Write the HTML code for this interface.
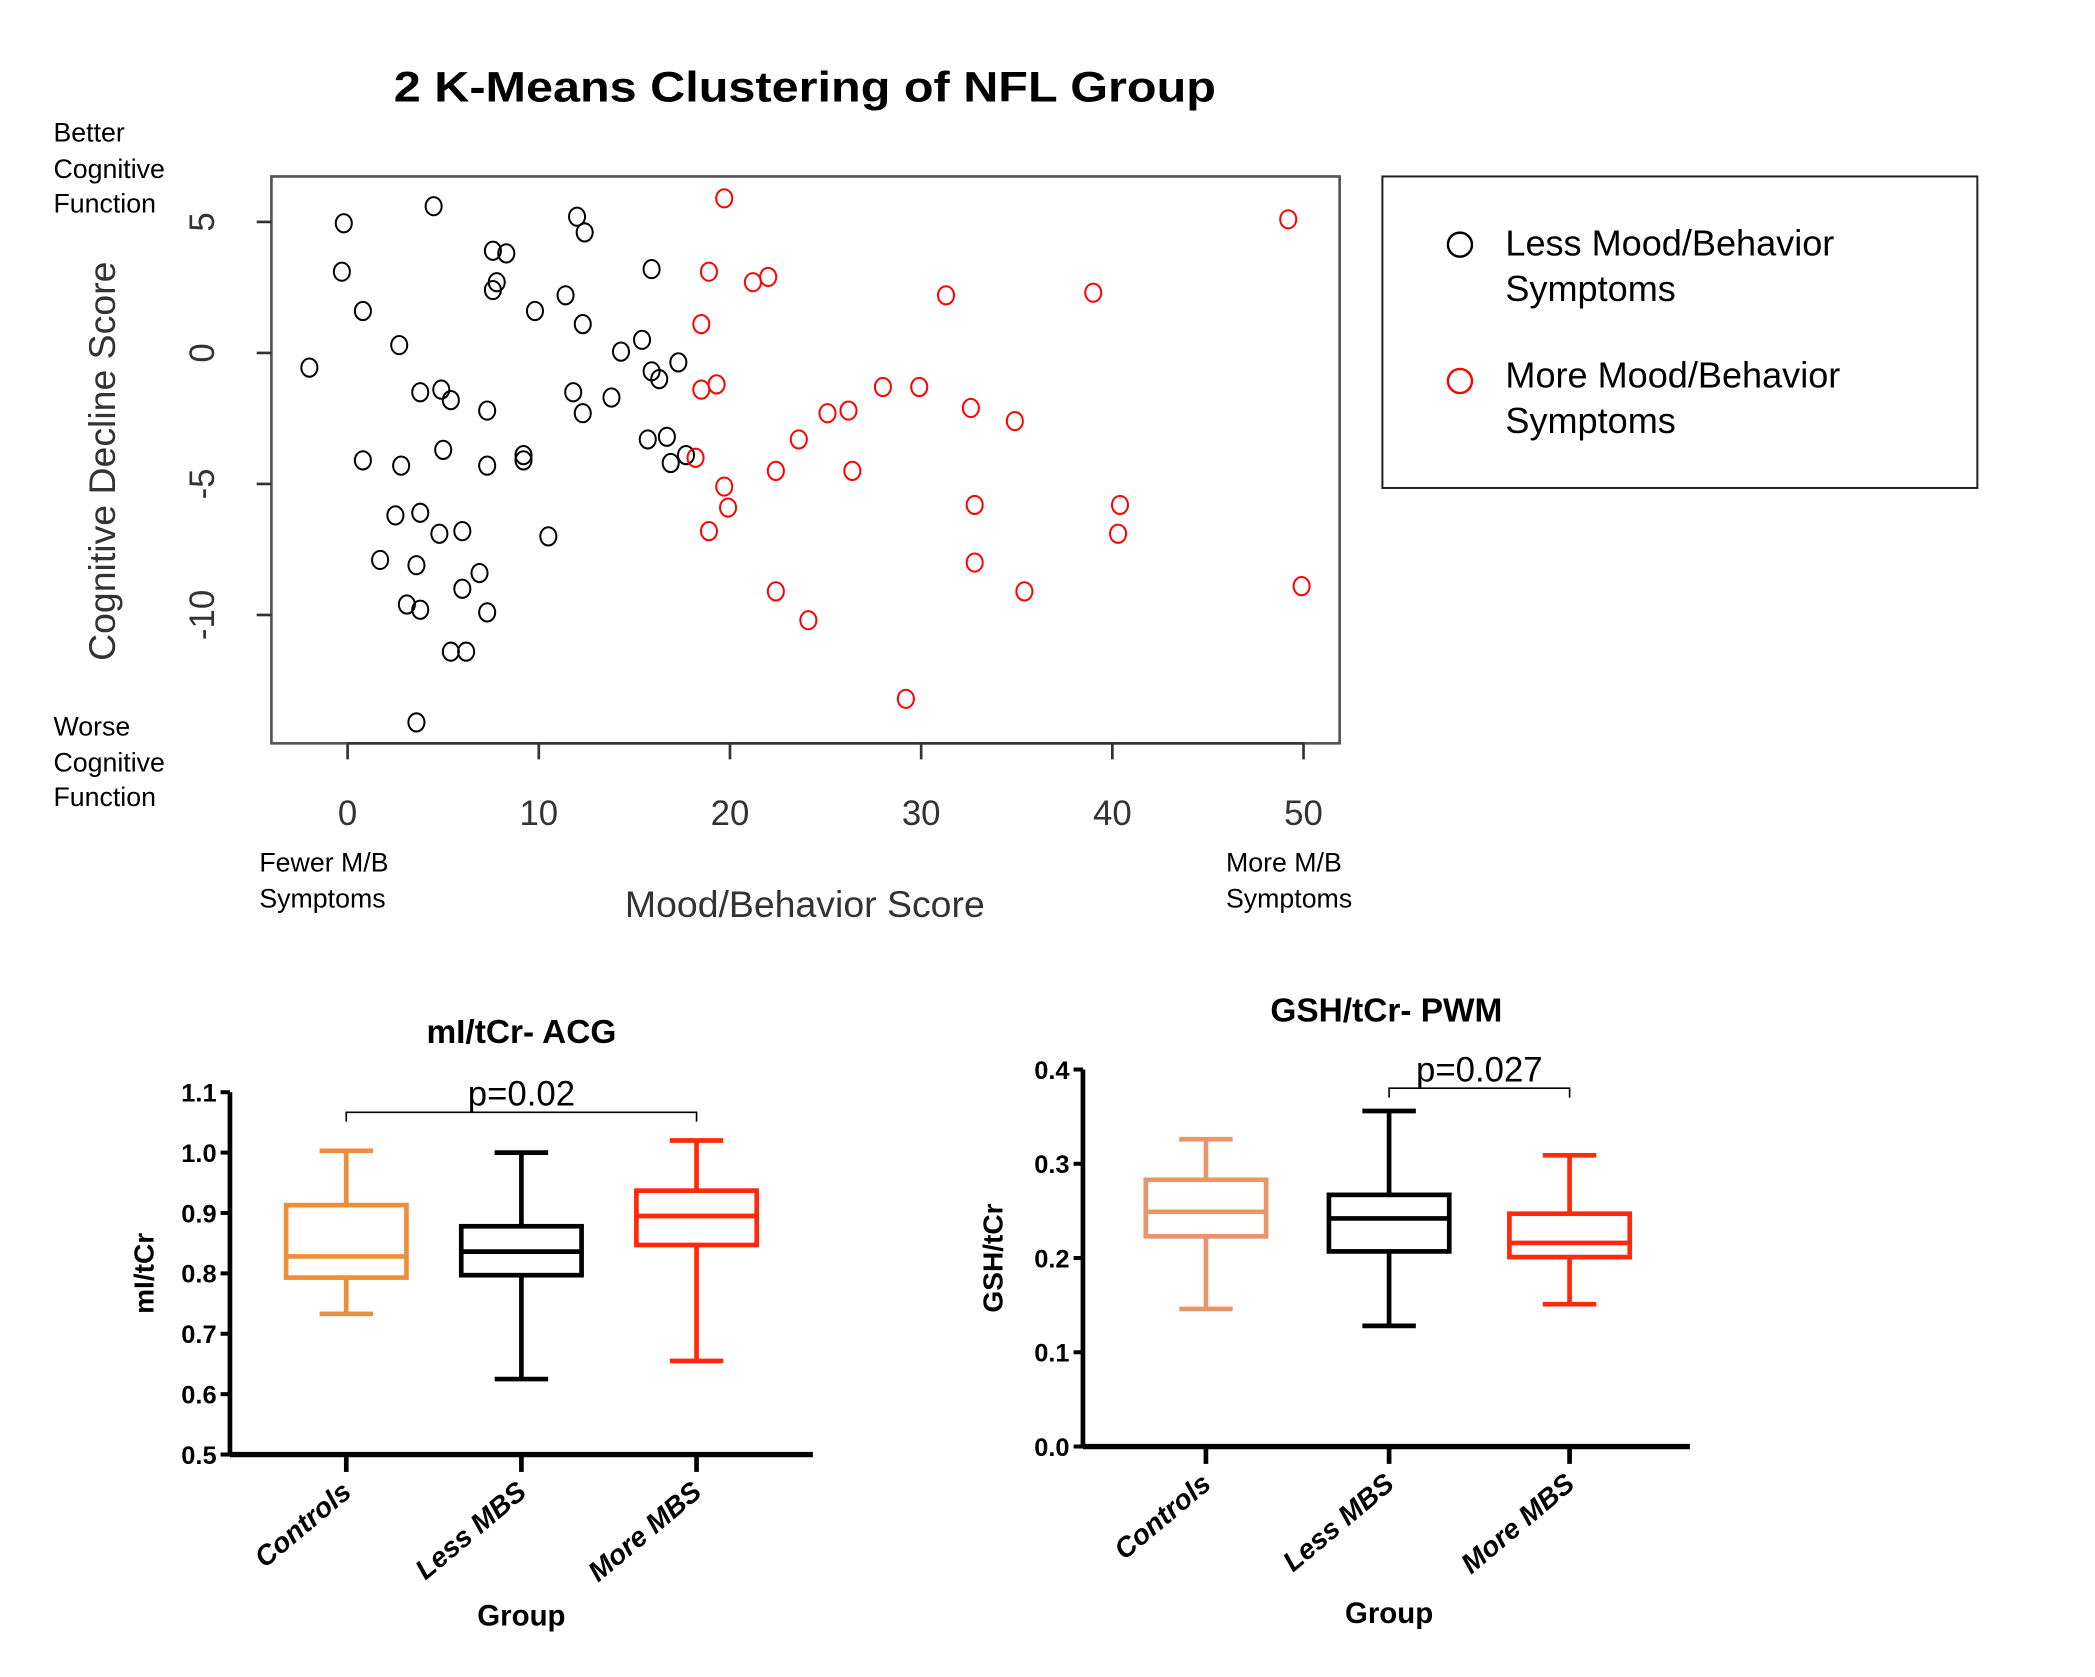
<!DOCTYPE html>
<html><head><meta charset="utf-8"><style>
html,body{margin:0;padding:0;background:#fff;}
svg{display:block;font-family:"Liberation Sans",Arial,sans-serif;}
</style></head><body>
<svg id="fig" width="2095" height="1677" viewBox="0 0 1567 1254.4" preserveAspectRatio="none">
<g id="scatter">
<text x="602" y="76" text-anchor="middle" font-size="32" font-weight="bold" textLength="615" lengthAdjust="spacingAndGlyphs">2 K-Means Clustering of NFL Group</text>
<rect x="203" y="132" width="799" height="424" fill="none" stroke="#555" stroke-width="2"/>
<g id="sxaxis"></g>
<g id="syaxis"></g>
<g id="spoints"></g>
<text x="602" y="686" text-anchor="middle" font-size="28" fill="#333">Mood/Behavior Score</text>
<text transform="translate(86,345) rotate(-90)" text-anchor="middle" font-size="28" fill="#333">Cognitive Decline Score</text>
<g font-size="20">
<text x="40" y="106">Better</text><text x="40" y="133">Cognitive</text><text x="40" y="159">Function</text>
<text x="40" y="550">Worse</text><text x="40" y="577">Cognitive</text><text x="40" y="603">Function</text>
<text x="194" y="652">Fewer M/B</text><text x="194" y="679">Symptoms</text>
<text x="917" y="652">More M/B</text><text x="917" y="679">Symptoms</text>
</g>
<g>
<rect x="1034" y="132" width="445" height="233" fill="none" stroke="#222" stroke-width="1.5"/>
<circle cx="1092" cy="183" r="9" fill="none" stroke="#000" stroke-width="1.8"/>
<text x="1126" y="191" font-size="27">Less Mood/Behavior</text>
<text x="1126" y="225" font-size="27">Symptoms</text>
<circle cx="1092" cy="285" r="9" fill="none" stroke="#f00" stroke-width="1.8"/>
<text x="1126" y="290" font-size="27">More Mood/Behavior</text>
<text x="1126" y="324" font-size="27">Symptoms</text>
</g>
</g>
<g id="box1"></g>
<g id="box2"></g>
</svg>
<script>
const NS="http://www.w3.org/2000/svg";
function mk(p,tag,attrs,txt){const e=document.createElementNS(NS,tag);for(const k in attrs)e.setAttribute(k,attrs[k]);if(txt!==undefined)e.textContent=txt;p.appendChild(e);return e;}

// scatter data
const lessX=[-2,-0.2,-0.3,0.8,2.7,0.8,2.8,4.5,3.8,4.9,5.4,5.0,7.3,7.3,7.6,8.3,7.8,7.6,9.8,9.2,9.2,11.4,12.0,12.4,12.3,11.8,12.3,13.8,14.3,15.4,15.9,17.3,15.9,16.3,15.7,16.7,16.9,17.7,2.5,3.8,4.8,6.0,10.5,1.7,3.6,6.9,6.0,3.1,3.8,7.3,5.4,6.2,3.6];
const lessY=[-0.56,4.95,3.1,1.6,0.3,-4.1,-4.3,5.6,-1.5,-1.4,-1.8,-3.7,-2.2,-4.3,3.9,3.8,2.7,2.4,1.6,-3.9,-4.1,2.2,5.2,4.6,1.1,-1.5,-2.3,-1.7,0.05,0.5,3.2,-0.36,-0.7,-1.0,-3.3,-3.2,-4.2,-3.9,-6.2,-6.1,-6.9,-6.8,-7.0,-7.9,-8.1,-8.4,-9.0,-9.6,-9.8,-9.9,-11.4,-11.4,-14.1];
const moreX=[19.7,49.2,18.9,21.2,22.0,31.3,39.0,18.5,18.5,19.3,28.0,29.9,25.1,26.2,32.6,34.9,23.6,18.2,22.4,26.4,19.7,19.9,32.8,40.4,18.9,40.3,32.8,22.4,35.4,49.9,24.1,29.2];
const moreY=[5.9,5.1,3.1,2.7,2.9,2.2,2.3,1.1,-1.4,-1.2,-1.3,-1.3,-2.3,-2.2,-2.1,-2.6,-3.3,-4.0,-4.5,-4.5,-5.1,-5.9,-5.8,-5.8,-6.8,-6.9,-8.0,-9.1,-9.1,-8.9,-10.2,-13.2];
const sxTicks=[0,10,20,30,40,50];
const syTicks=[5,0,-5,-10];
const sx=v=>260+v*14.3, sy=v=>264-v*19.6;

const sxa=document.getElementById('sxaxis');
mk(sxa,'line',{x1:sx(0),x2:sx(50),y1:556,y2:556,stroke:'#333','stroke-width':2});
sxTicks.forEach(t=>{mk(sxa,'line',{x1:sx(t),x2:sx(t),y1:556,y2:568,stroke:'#333','stroke-width':2});
 const l=mk(sxa,'text',{x:sx(t),y:617,'text-anchor':'middle','font-size':26,fill:'#333'},String(t));
 
 });
const sya=document.getElementById('syaxis');
syTicks.forEach(t=>{mk(sya,'line',{x1:192,x2:203,y1:sy(t),y2:sy(t),stroke:'#333','stroke-width':2});
 const l=mk(sya,'text',{transform:`translate(160,${sy(t)}) rotate(-90)`,'text-anchor':'middle','font-size':26,fill:'#333'},t<0?'-'+(-t):String(t));
 
 });
const sp=document.getElementById('spoints');
lessX.forEach((x,i)=>{const c=mk(sp,'ellipse',{cx:sx(x),cy:sy(lessY[i]),rx:6,ry:6.8,fill:'none',stroke:'#000','stroke-width':1.5});
 
 });
moreX.forEach((x,i)=>{const c=mk(sp,'ellipse',{cx:sx(x),cy:sy(moreY[i]),rx:6,ry:6.8,fill:'none',stroke:'#f00','stroke-width':1.5});
 
 });

// box plot data
const groups=['Controls','Less MBS','More MBS'];
const b1Min=[0.733,0.625,0.655], b1Q1=[0.793,0.797,0.847], b1Med=[0.828,0.836,0.895], b1Q3=[0.913,0.878,0.937], b1Max=[1.003,1.0,1.02];
const b1Ticks=[0.5,0.6,0.7,0.8,0.9,1.0,1.1];
const b2Min=[0.146,0.128,0.151], b2Q1=[0.223,0.207,0.201], b2Med=[0.249,0.242,0.216], b2Q3=[0.283,0.267,0.247], b2Max=[0.326,0.356,0.309];
const b2Ticks=[0.0,0.1,0.2,0.3,0.4];

function boxplot(id,cfg){
 const g=document.getElementById(id);
 const y=v=>cfg.y0-(v-cfg.v0)*cfg.k;
 mk(g,'text',{x:cfg.tx,y:cfg.ty,'text-anchor':'middle','font-size':25,'font-weight':'bold'},cfg.title);
 mk(g,'line',{x1:cfg.ax,x2:cfg.ax,y1:y(cfg.ticks[cfg.ticks.length-1]),y2:y(cfg.v0),stroke:'#000','stroke-width':3.5});
 mk(g,'line',{x1:cfg.ax,x2:cfg.xend,y1:y(cfg.v0),y2:y(cfg.v0),stroke:'#000','stroke-width':4});
 cfg.ticks.forEach(t=>{mk(g,'line',{x1:cfg.ax-7,x2:cfg.ax,y1:y(t),y2:y(t),stroke:'#000','stroke-width':3});
  const l=mk(g,'text',{x:cfg.ax-10,y:y(t)+7,'text-anchor':'end','font-size':19,'font-weight':'bold'},t.toFixed(1));
  
  });
 mk(g,'text',{transform:`translate(${cfg.ylx},${y((cfg.v0+cfg.ticks[cfg.ticks.length-1])/2)}) rotate(-90)`,'text-anchor':'middle','font-size':21,'font-weight':'bold'},cfg.ylabel);
 mk(g,'text',{x:cfg.xs[1],y:cfg.gy,'text-anchor':'middle','font-size':22,'font-weight':'bold'},'Group');
 groups.forEach((n,i)=>{const x=cfg.xs[i],c=cfg.colors[i],hw=45;
  mk(g,'line',{x1:x,x2:x,y1:y(cfg.v0),y2:y(cfg.v0)+13,stroke:'#000','stroke-width':3.5});
  const l=mk(g,'text',{transform:`translate(${x+5},${y(cfg.v0)+30}) rotate(-40)`,'text-anchor':'end','font-size':21,'font-weight':'bold','font-style':'italic'},n);
  
  
  const bx=mk(g,'g',{});
  
  
  mk(bx,'line',{x1:x,x2:x,y1:y(cfg.mx[i]),y2:y(cfg.q3[i]),stroke:c,'stroke-width':3.5});
  mk(bx,'line',{x1:x,x2:x,y1:y(cfg.q1[i]),y2:y(cfg.mn[i]),stroke:c,'stroke-width':3.5});
  mk(bx,'line',{x1:x-20,x2:x+20,y1:y(cfg.mx[i]),y2:y(cfg.mx[i]),stroke:c,'stroke-width':3.5});
  mk(bx,'line',{x1:x-20,x2:x+20,y1:y(cfg.mn[i]),y2:y(cfg.mn[i]),stroke:c,'stroke-width':3.5});
  mk(bx,'rect',{x:x-hw,y:y(cfg.q3[i]),width:2*hw,height:y(cfg.q1[i])-y(cfg.q3[i]),fill:'none',stroke:c,'stroke-width':3.5});
  mk(bx,'line',{x1:x-hw,x2:x+hw,y1:y(cfg.md[i]),y2:y(cfg.md[i]),stroke:c,'stroke-width':3.5});
 });
 const b=cfg.br;
 mk(g,'path',{d:`M${cfg.xs[b.a]},${b.y+7}V${b.y}H${cfg.xs[b.b]}V${b.y+7}`,fill:'none',stroke:'#000','stroke-width':1.2});
 mk(g,'text',{x:(cfg.xs[b.a]+cfg.xs[b.b])/2,y:b.y-5,'text-anchor':'middle','font-size':26},b.t);
}
boxplot('box1',{y0:1088,v0:0.5,k:451.7,ax:172,xend:608,xs:[259,390,521],ticks:b1Ticks,mn:b1Min,q1:b1Q1,md:b1Med,q3:b1Q3,mx:b1Max,
 colors:['#ec8f3c','#000','#ff2a0a'],title:'mI/tCr- ACG',tx:390,ty:780,ylabel:'mI/tCr',ylx:115,gy:1216,br:{a:0,b:2,y:832,t:'p=0.02'}});
boxplot('box2',{y0:1082,v0:0,k:705,ax:810,xend:1264,xs:[902,1039,1174],ticks:b2Ticks,mn:b2Min,q1:b2Q1,md:b2Med,q3:b2Q3,mx:b2Max,
 colors:['#e8956b','#000','#ff2a0a'],title:'GSH/tCr- PWM',tx:1037,ty:764,ylabel:'GSH/tCr',ylx:750,gy:1214,br:{a:1,b:2,y:814,t:'p=0.027'}});
</script>
</body></html>
